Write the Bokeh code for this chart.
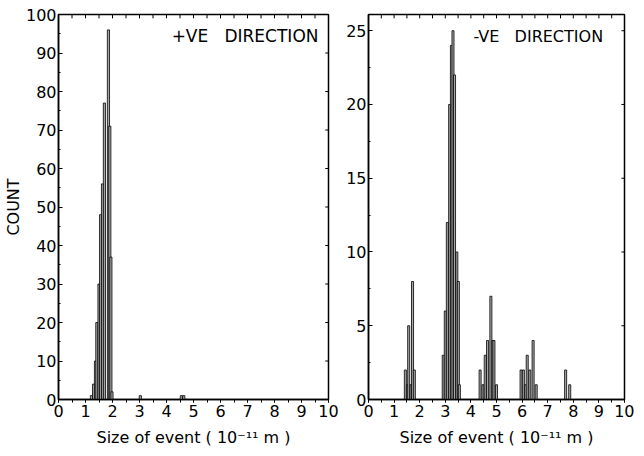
from bokeh.plotting import figure
from bokeh.layouts import row
from bokeh.models import Label, FixedTicker
from bokeh.embed import file_html
from bokeh.resources import INLINE

# ---- data ----
x_ticks = [0, 1, 2, 3, 4, 5, 6, 7, 8, 9, 10]
x_minor = [0, 0.5, 1, 1.5, 2, 2.5, 3, 3.5, 4, 4.5, 5, 5.5, 6, 6.5, 7, 7.5, 8, 8.5, 9, 9.5, 10]
pos_ticks = [0, 10, 20, 30, 40, 50, 60, 70, 80, 90, 100]
neg_ticks = [0, 5, 10, 15, 20, 25]

# +VE direction: bin centre (10^-11 m) and count
pos_size = [1.22, 1.30, 1.37, 1.42, 1.50, 1.56, 1.63, 1.70, 1.85, 1.90, 1.94, 1.98, 3.03, 4.55, 4.64]
pos_count = [1, 4, 10, 20, 30, 48, 56, 77, 96, 71, 37, 2, 1, 1, 1]

# -VE direction
neg_size = [1.44, 1.52, 1.57, 1.66, 1.72, 1.79,
            2.92, 3.00, 3.08, 3.17, 3.24, 3.30, 3.36, 3.45, 3.51, 3.55,
            4.36, 4.47, 4.56, 4.65, 4.78, 4.86, 4.90, 5.00,
            5.96, 6.05, 6.13, 6.20, 6.30, 6.43, 6.55,
            7.70, 7.86]
neg_count = [2, 1, 5, 1, 8, 2,
             3, 6, 12, 20, 24, 25, 22, 10, 8, 1,
             2, 1, 3, 4, 7, 4, 4, 1,
             2, 2, 1, 3, 2, 4, 1,
             2, 1]

BIN_W = 0.08
FONT = "DejaVu Sans"
XLABEL = "Size of event ( 10\u207b\u00b9\u00b9 m )"
NB = "\u00a0"


def style(p, yticks, ymin_step, ymax):
    p.grid.visible = False
    p.outline_line_color = "black"
    p.outline_line_width = 1.5
    p.background_fill_color = "white"
    p.border_fill_color = "white"
    for ax in p.xaxis + p.yaxis:
        ax.axis_line_color = "black"
        ax.axis_line_width = 1.5
        ax.major_tick_line_color = "black"
        ax.minor_tick_line_color = "black"
        ax.major_label_text_font = FONT
        ax.major_label_text_font_size = "16px"
        ax.major_label_text_color = "black"
        ax.axis_label_text_font = FONT
        ax.axis_label_text_font_size = "16px"
        ax.axis_label_text_font_style = "normal"
        ax.axis_label_text_color = "black"
    p.xaxis.ticker = FixedTicker(ticks=x_ticks, minor_ticks=x_minor)
    p.xaxis.major_tick_out = 3
    p.xaxis.major_tick_in = 0
    p.xaxis.minor_tick_out = 3
    p.xaxis.minor_tick_in = 0
    p.xaxis.major_label_standoff = 2
    p.xaxis.axis_label = XLABEL
    p.xaxis.axis_label_standoff = 8
    p.yaxis.ticker = FixedTicker(ticks=yticks,
                                 minor_ticks=[i * ymin_step for i in range(int(yticks[-1] / ymin_step) + 1)])
    p.yaxis.major_tick_out = 0
    p.yaxis.major_tick_in = 4
    p.yaxis.minor_tick_out = 0
    p.yaxis.minor_tick_in = 2
    p.yaxis.major_label_standoff = 2
    # tick marks on the top and right frame edges
    n = len(x_minor)
    p.segment(x0=x_minor, x1=x_minor, y0=[ymax] * n, y1=[ymax * 0.99] * n,
              line_color="black", line_width=1)
    m = len(yticks)
    p.segment(x0=[10] * m, x1=[9.88] * m, y0=yticks, y1=yticks,
              line_color="black", line_width=1)


p1 = figure(frame_width=270, frame_height=385, x_range=(0, 10), y_range=(0, 100),
            output_backend="svg", toolbar_location=None,
            min_border_left=52, min_border_right=12, min_border_top=14, min_border_bottom=40)
p1.vbar(x=pos_size, top=pos_count, width=BIN_W, bottom=0,
        fill_color="#a8a8a8", line_color="black", line_width=0.8)
style(p1, pos_ticks, 5, 100)
p1.yaxis[0].axis_label = "COUNT"
p1.yaxis[0].axis_label_standoff = 0
p1.add_layout(Label(x=4.19, y=94.3, text="+VE" + NB * 3 + "DIRECTION", text_font=FONT,
                    text_font_size="17px", text_baseline="middle", text_color="black"))

p2 = figure(frame_width=256, frame_height=385, x_range=(0, 10), y_range=(0, 26.1),
            output_backend="svg", toolbar_location=None,
            min_border_left=28, min_border_right=10, min_border_top=14, min_border_bottom=40)
p2.vbar(x=neg_size, top=neg_count, width=BIN_W, bottom=0,
        fill_color="#a8a8a8", line_color="black", line_width=0.8)
style(p2, neg_ticks, 2.5, 26.1)
p2.add_layout(Label(x=4.1, y=24.6, text="-VE" + NB * 3 + "DIRECTION", text_font=FONT,
                    text_font_size="16px", text_baseline="middle", text_color="black"))

layout = row(p1, p2)
open("out.html", "w").write(file_html(layout, INLINE))
